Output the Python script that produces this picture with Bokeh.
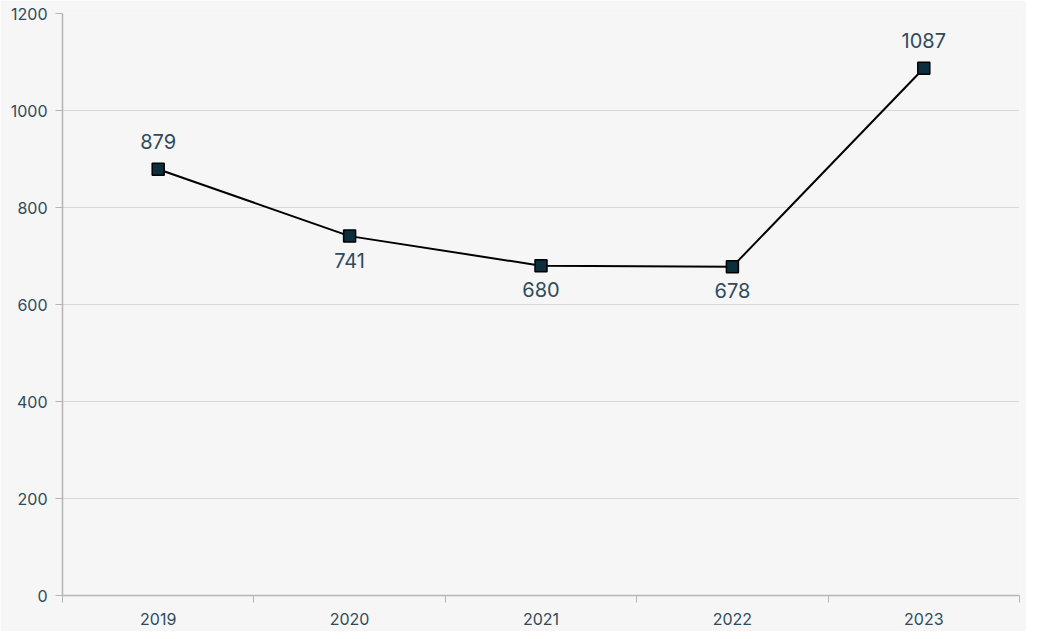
from bokeh.plotting import figure
from bokeh.models import ColumnDataSource, Range1d, FixedTicker, LabelSet
from bokeh.core.properties import value
from bokeh.embed import file_html
from bokeh.resources import INLINE

years = ["2019", "2020", "2021", "2022", "2023"]
values = [879, 741, 680, 678, 1087]
y_ticks = [0, 200, 400, 600, 800, 1000, 1200]

xs = [i + 0.5 for i in range(len(years))]
sides = []
for i, v in enumerate(values):
    nb = [values[j] for j in (i - 1, i + 1) if 0 <= j < len(values)]
    sides.append(28 if all(v > n for n in nb) else -24)

src = ColumnDataSource(dict(x=xs, y=values, lab=[str(v) for v in values], off=sides))

FONT = "Inter"
TXT = "#2f4b5b"
BG = "#f6f6f6"

p = figure(width=1026, height=631, output_backend="svg", toolbar_location=None,
           x_range=Range1d(0, len(years)), y_range=Range1d(0, 1200),
           min_border_left=62, min_border_right=7, min_border_top=13, min_border_bottom=36)
p.background_fill_color = BG
p.border_fill_color = BG
p.outline_line_color = None

p.line("x", "y", source=src, line_color="black", line_width=2)
p.scatter("x", "y", source=src, marker="square", size=12, fill_color="#0b2f3d",
          line_color="black", line_width=1.5)

labels = LabelSet(x="x", y="y", text="lab", y_offset="off", source=src,
                  text_align="center", text_baseline="middle", text_font=value(FONT),
                  text_font_size="20px", text_color=TXT)
p.add_layout(labels)

# x axis
p.xaxis.ticker = FixedTicker(ticks=xs, minor_ticks=list(range(len(years) + 1)))
p.xaxis.major_label_overrides = {x: y for x, y in zip(xs, years)}
p.xaxis.major_tick_out = 0
p.xaxis.major_tick_in = 0
p.xaxis.minor_tick_out = 7
p.xaxis.minor_tick_in = 0
p.xaxis.minor_tick_line_color = "#b5b5b5"
p.xaxis.axis_line_color = "#b5b5b5"
p.xaxis.axis_line_width = 1.5
p.xaxis.major_label_text_font = FONT
p.xaxis.major_label_text_font_size = "16px"
p.xaxis.major_label_text_color = TXT
p.xaxis.major_label_standoff = 10

# y axis
p.yaxis.ticker = FixedTicker(ticks=y_ticks)
p.yaxis.major_tick_out = 7
p.yaxis.major_tick_in = 0
p.yaxis.major_tick_line_color = "#b5b5b5"
p.yaxis.axis_line_color = "#b5b5b5"
p.yaxis.axis_line_width = 1.5
p.yaxis.major_label_text_font = FONT
p.yaxis.major_label_text_font_size = "16px"
p.yaxis.major_label_text_color = TXT
p.yaxis.major_label_standoff = 8

p.xgrid.grid_line_color = None
p.ygrid.grid_line_color = "#d9d9d9"
p.ygrid.ticker = FixedTicker(ticks=y_ticks)

open("out.html", "w").write(file_html(p, INLINE))
